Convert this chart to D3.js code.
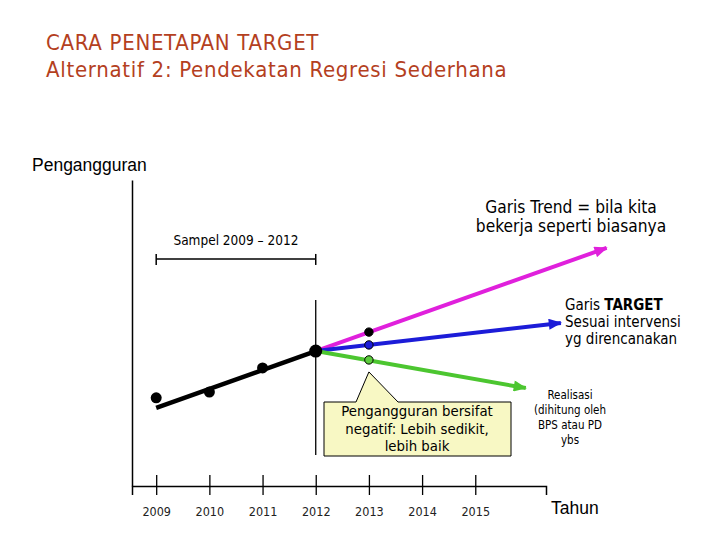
<!DOCTYPE html>
<html>
<head>
<meta charset="utf-8">
<script src="https://cdn.jsdelivr.net/npm/d3@7"></script>
<style>
  body { margin: 0; background: #fff; }
  svg { display: block; }
</style>
</head>
<body>
<svg id="visualisation"></svg>
<script>
// sample years and observed unemployment (arbitrary units)
const sampleYears = [2009, 2010, 2011, 2012];
const sampleValues = [28.8, 30.7, 38.6, 44.1];

// fitted regression line 2009 -> 2012
const regYears = [2009, 2012];
const regValues = [25.5, 44.1];

// projection lines from 2012: [start, 2013, end]
const trendYears = [2012, 2013, 2017.47];
const trendValues = [44.1, 50.3, 77.8];
const targetYears = [2012, 2013, 2016.61];
const targetValues = [44.1, 46.1, 53.3];
const realYears = [2012, 2013, 2015.95];
const realValues = [44.1, 41.2, 32.0];

const tickYears = [2009, 2010, 2011, 2012, 2013, 2014, 2015];

const width = 720;
const height = 540;
const font = "'DejaVu Sans Condensed', 'DejaVu Sans', sans-serif";

const visArea = d3.select("#visualisation")
    .attr("width", width)
    .attr("height", height)
    .attr("viewBox", [0, 0, width, height]);

const xScale = d3.scaleLinear()
    .domain([2008.545, 2016.33])
    .range([132, 546]);

const yScale = d3.scaleLinear()
    .domain([0, 100])
    .range([486, 180]);

// arrow markers
const defs = visArea.append("defs");
[["mag", "#e020dc"], ["blu", "#1c1cd8"], ["grn", "#4cc630"]].forEach(([id, c]) => {
    defs.append("marker")
        .attr("id", "arr-" + id)
        .attr("markerUnits", "userSpaceOnUse")
        .attr("viewBox", "0 0 12 10")
        .attr("refX", 11)
        .attr("refY", 5)
        .attr("markerWidth", 14)
        .attr("markerHeight", 11)
        .attr("orient", "auto")
        .append("path")
        .attr("d", "M0,0 L12,5 L0,10 Z")
        .attr("fill", c);
});

// titles
const title = visArea.append("g")
    .attr("font-family", font)
    .attr("font-size", 22)
    .attr("letter-spacing", 0.7)
    .attr("fill", "#b4401e");
title.append("text").attr("x", 46).attr("y", 50).text("CARA PENETAPAN TARGET");
title.append("text").attr("x", 46).attr("y", 76.5).text("Alternatif 2: Pendekatan Regresi Sederhana");

visArea.append("text")
    .attr("x", 32).attr("y", 171)
    .attr("font-family", "'Liberation Sans', Arial, sans-serif")
    .attr("font-size", 17.5)
    .text("Pengangguran");

// axes
const xAxis = d3.axisBottom(xScale)
    .tickValues(tickYears)
    .tickFormat(d3.format("d"))
    .tickSizeOuter(0)
    .tickSize(9);

const gx = visArea.append("g")
    .attr("transform", `translate(0,${yScale(0)})`)
    .call(xAxis);
gx.select(".domain").attr("stroke-width", 1.5);
gx.selectAll(".tick line").attr("y1", -11).attr("y2", 9).attr("stroke-width", 1.3);
gx.selectAll(".tick text")
    .attr("y", 30)
    .attr("dy", 0)
    .attr("font-family", font)
    .attr("font-size", 12.5)
    .attr("fill", "#222");

const gy = visArea.append("g")
    .attr("transform", `translate(${xScale.range()[0]},0)`)
    .call(d3.axisLeft(yScale).ticks(0).tickSizeOuter(0));
gy.select(".domain").attr("stroke-width", 1.5);

visArea.append("text")
    .attr("x", 551).attr("y", 514)
    .attr("font-family", "'Liberation Sans', Arial, sans-serif")
    .attr("font-size", 17.5)
    .text("Tahun");

// vertical divider at 2012
visArea.append("line")
    .attr("x1", xScale(2012)).attr("x2", xScale(2012))
    .attr("y1", yScale(60.8)).attr("y2", yScale(10.1))
    .attr("stroke", "#000").attr("stroke-width", 1.3);

// sample bracket
const br = visArea.append("g").attr("stroke", "#000").attr("stroke-width", 1.5);
br.append("line")
    .attr("x1", xScale(2009)).attr("x2", xScale(2012))
    .attr("y1", yScale(74.2)).attr("y2", yScale(74.2));
[2009, 2012].forEach(yr => {
    br.append("line")
        .attr("x1", xScale(yr)).attr("x2", xScale(yr))
        .attr("y1", yScale(74.2) - 5).attr("y2", yScale(74.2) + 6);
});
visArea.append("text")
    .attr("x", xScale(2010.5)).attr("y", 245)
    .attr("text-anchor", "middle")
    .attr("font-family", font)
    .attr("font-size", 13.5)
    .text("Sampel 2009 \u2013 2012");

// projection lines
const line = d3.line().x(d => xScale(d[0])).y(d => yScale(d[1]));
const proj = [
    [trendYears, trendValues, "#e020dc", "mag"],
    [targetYears, targetValues, "#1c1cd8", "blu"],
    [realYears, realValues, "#4cc630", "grn"]
];
proj.forEach(([xs, ys, c, id]) => {
    visArea.append("path")
        .attr("d", line([[xs[0], ys[0]], [xs[2], ys[2]]]))
        .attr("fill", "none")
        .attr("stroke", c)
        .attr("stroke-width", 4)
        .attr("marker-end", `url(#arr-${id})`);
});

// regression line
visArea.append("path")
    .attr("d", line(regYears.map((d, i) => [d, regValues[i]])))
    .attr("stroke", "#000")
    .attr("stroke-width", 4.5);

// sample dots
visArea.append("g")
    .selectAll("circle")
    .data(sampleYears.map((d, i) => ({ x: d, y: sampleValues[i] })))
    .enter()
    .append("circle")
    .attr("cx", d => xScale(d.x))
    .attr("cy", d => yScale(d.y))
    .attr("r", (d, i) => i === 3 ? 6.5 : 5.5)
    .attr("fill", "#000");

// 2013 projected dots
visArea.append("g")
    .selectAll("circle")
    .data([
        { y: trendValues[1], fill: "#000" },
        { y: targetValues[1], fill: "#1c1cd8" },
        { y: realValues[1], fill: "#5ccc3c" }
    ])
    .enter()
    .append("circle")
    .attr("cx", xScale(2013))
    .attr("cy", d => yScale(d.y))
    .attr("r", 4.2)
    .attr("fill", d => d.fill)
    .attr("stroke", "#000")
    .attr("stroke-width", 1);

// callout box
const tip = [xScale(2013), yScale(realValues[1]) + 12];
visArea.append("path")
    .attr("d", `M324,402 L356,402 L${tip[0]},${tip[1]} L398,402 L511,402 L511,456 L324,456 Z`)
    .attr("fill", "#f8f8c4")
    .attr("stroke", "#000")
    .attr("stroke-width", 1);
const callout = visArea.append("text")
    .attr("font-family", font)
    .attr("font-size", 14.8)
    .attr("text-anchor", "middle");
["Pengangguran bersifat", "negatif: Lebih sedikit,", "lebih baik"].forEach((t, i) => {
    callout.append("tspan").attr("x", 417).attr("y", 416 + i * 17.5).text(t);
});

// trend label
const tl = visArea.append("text")
    .attr("font-family", font)
    .attr("font-size", 17.2)
    .attr("text-anchor", "middle");
["Garis Trend = bila kita", "bekerja seperti biasanya"].forEach((t, i) => {
    tl.append("tspan").attr("x", 571).attr("y", 213 + i * 19).text(t);
});

// target label
const tg = visArea.append("text")
    .attr("font-family", font)
    .attr("font-size", 15);
tg.append("tspan").attr("x", 565).attr("y", 310).text("Garis ");
tg.append("tspan").attr("font-weight", "bold").text("TARGET");
tg.append("tspan").attr("x", 565).attr("y", 327).text("Sesuai intervensi");
tg.append("tspan").attr("x", 565).attr("y", 344).text("yg direncanakan");

// realisasi label
const rl = visArea.append("text")
    .attr("font-family", font)
    .attr("font-size", 11.5)
    .attr("text-anchor", "middle");
["Realisasi", "(dihitung oleh", "BPS atau PD", "ybs"].forEach((t, i) => {
    rl.append("tspan").attr("x", 570).attr("y", 399 + i * 15).text(t);
});
</script>
</body>
</html>
